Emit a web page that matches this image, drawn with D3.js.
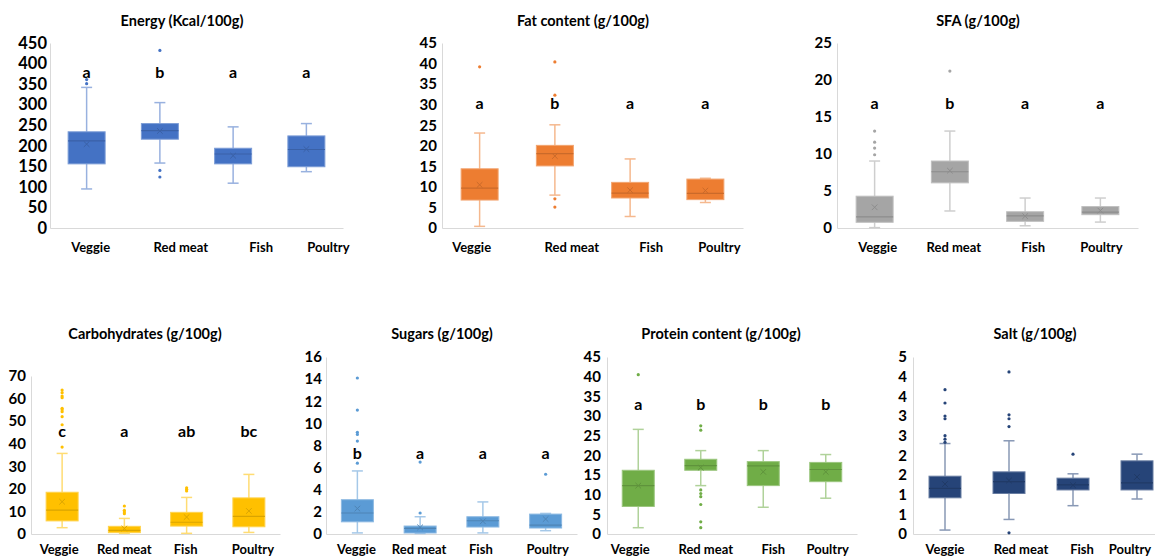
<!DOCTYPE html>
<html><head><meta charset="utf-8">
<script src="https://cdn.jsdelivr.net/npm/d3@7"></script>
<style>
body{margin:0;background:#fff}
svg{display:block}
text{font-family:Lato,"Open Sans",sans-serif;font-weight:bold;fill:#000}
</style>
</head><body>
<svg id="chart" width="1155" height="558"></svg>
<script>
const categories = ["Veggie", "Red meat", "Fish", "Poultry"];

// per category: [whiskerLow, q1, median, q3, whiskerHigh, mean]
const energyStats = [[95,156,212,234,342,204],[158,216,237,254,305,236],[109,156,180,194,246,176],[137,149,191,224,254,192]];
const energyOutliers = [[361,351],[432,140,124],[],[]];
const energyLetters = ["a","b","a","a"];
const energyTicks = [0,50,100,150,200,250,300,350,400,450];

const fatStats = [[0.4,6.8,9.7,14.4,23.1,10.5],[8.0,15.1,18.1,20.1,25.1,17.5],[2.8,7.3,8.5,11.1,16.8,9.2],[6.2,6.9,8.4,11.9,12.1,9.1]];
const fatOutliers = [[39.2],[40.4,32.3,7.1,5.1],[],[]];
const fatLetters = ["a","b","a","a"];
const fatTicks = [0,5,10,15,20,25,30,35,40,45];

const sfaStats = [[0.05,0.77,1.5,4.3,9.05,2.8],[2.3,6.1,7.6,9.05,13.1,7.75],[0.3,0.9,1.65,2.2,4.05,1.6],[0.8,1.8,2.15,2.9,4.05,2.35]];
const sfaOutliers = [[13.1,11.6,10.8,9.9],[21.2],[],[]];
const sfaLetters = ["a","b","a","a"];
const sfaTicks = [0,5,10,15,20,25];

const carbStats = [[2.8,5.8,10.6,18.5,35.7,14.3],[0.3,0.6,1.6,3.4,6.9,2.4],[0.3,3.5,5.2,9.6,16.2,7.5],[0.7,3.2,7.8,16.0,26.4,10.2]];
const carbOutliers = [[63.8,62.6,61.1,60.4,55.7,55.0,54.2,52.0,48.4,38.5],[12.4,10.5,9.8,9.0],[20.5,19.8,19.1],[]];
const carbLetters = ["c","a","ab","bc"];
const carbTicks = [0,10,20,30,40,50,60,70];

const sugarStats = [[0.1,1.1,1.9,3.1,5.7,2.3],[0.05,0.09,0.5,0.72,1.56,0.6],[0.1,0.63,1.2,1.56,2.9,1.15],[0.3,0.54,0.8,1.8,1.86,1.35]];
const sugarOutliers = [[14.1,11.2,9.2,9.0,8.4,6.4],[6.5,1.9],[],[5.4]];
const sugarLetters = ["b","a","a","a"];
const sugarTicks = [0,2,4,6,8,10,12,14,16];

const proteinStats = [[1.6,7.0,12.3,16.2,26.6,12.3],[12.3,16.2,17.4,19.0,21.2,16.9],[6.8,12.3,17.3,18.4,21.2,15.8],[9.1,13.3,16.4,18.2,20.2,15.8]];
const proteinOutliers = [[40.5],[27.5,26.4,11.2,10.3,9.5,7.5,3.1,1.6],[],[]];
const proteinLetters = ["a","b","b","b"];
const proteinTicks = [0,5,10,15,20,25,30,35,40,45];

const saltStats = [[0.10,0.92,1.16,1.47,2.30,1.27],[0.37,1.03,1.33,1.58,2.37,1.36],[0.72,1.12,1.25,1.42,1.53,1.24],[0.89,1.12,1.30,1.86,2.03,1.45]];
const saltOutliers = [[2.33,2.41,2.50,2.93,3.0,3.33,3.67],[0.03,2.73,2.93,3.03,4.12],[2.03],[]];
const saltLetters = ["","","",""];
const saltTicks = [0,0.5,1,1.5,2,2.5,3,3.5,4,4.5];
const saltTickLabels = ["0","1","1","2","2","3","3","4","4","5"];

const panels = [
  {title:"Energy (Kcal/100g)", stats:energyStats, out:energyOutliers, letters:energyLetters, letterAt:377, ticks:energyTicks,
   color:"#4472C4", x0:50, x1:343, yb:228, yt:43, tx:182, ty:26, ly:252, fs:16.5, gap:3, shift:[4,21,28,22], bw:37},
  {title:"Fat content (g/100g)", stats:fatStats, out:fatOutliers, letters:fatLetters, letterAt:30.2, ticks:fatTicks,
   color:"#ED7D31", x0:442, x1:743, yb:228, yt:43, tx:583, ty:26, ly:252, fs:15, gap:5, shift:[-8,17,21,14], bw:37},
  {title:"SFA (g/100g)", stats:sfaStats, out:sfaOutliers, letters:sfaLetters, letterAt:16.8, ticks:sfaTicks,
   color:"#A5A5A5", x0:837, x1:1138, yb:228, yt:43, tx:978, ty:26, ly:252, fs:15, gap:5, shift:[3,4,8,1], bw:37},
  {title:"Carbohydrates (g/100g)", stats:carbStats, out:carbOutliers, letters:carbLetters, letterAt:45.3, ticks:carbTicks,
   color:"#FFC000", x0:31, x1:280, yb:534, yt:376, tx:145, ty:339, ly:554, fs:15, gap:5, shift:[-3,0,-1,4], bw:32},
  {title:"Sugars (g/100g)", stats:sugarStats, out:sugarOutliers, letters:sugarLetters, letterAt:7.2, ticks:sugarTicks,
   color:"#5B9BD5", x0:326, x1:577, yb:534, yt:357, tx:442, ty:339, ly:554, fs:15, gap:4, shift:[-1,-1,-2,2], bw:32},
  {title:"Protein content (g/100g)", stats:proteinStats, out:proteinOutliers, letters:proteinLetters, letterAt:32.8, ticks:proteinTicks,
   color:"#70AD47", x0:607, x1:857, yb:534, yt:357, tx:721, ty:339, ly:554, fs:15, gap:6, shift:[-8,5,10,2], bw:32},
  {title:"Salt (g/100g)", stats:saltStats, out:saltOutliers, letters:saltLetters, letterAt:4, ticks:saltTicks, tickLabels:saltTickLabels,
   color:"#264478", x0:913, x1:1169, yb:534, yt:357, tx:1035, ty:339, ly:554, fs:15, gap:6, shift:[0,12,9,-7], bw:32}
];

const svg = d3.select("#chart");
const axisGrey = "#d9d9d9";

panels.forEach(p => {
  const g = svg.append("g");
  const ymax = p.ticks[p.ticks.length-1];
  const y = d3.scaleLinear().domain([0, ymax]).range([p.yb, p.yt]);
  const x = d3.scaleBand().domain(categories).range([p.x0, p.x1]);
  const cx = c => x(c) + x.bandwidth()/2;
  const light = d3.interpolateRgb(p.color, "#ffffff");
  const whiskerCol = light(0.45);
  const edgeCol = light(0.3);
  const darkCol = d3.color(p.color).darker(0.45).formatHex();

  // title
  g.append("text").attr("x", p.tx).attr("y", p.ty).attr("text-anchor","middle")
    .style("font-size","14.5px").text(p.title);

  // y axis
  const ya = d3.axisLeft(y).tickValues(p.ticks).tickSize(0).tickSizeOuter(0).tickPadding(p.gap)
    .tickFormat((d,i) => p.tickLabels ? p.tickLabels[i] : d3.format("d")(d));
  const yg = g.append("g").attr("transform", `translate(${p.x0},0)`).call(ya);
  yg.select(".domain").attr("stroke", axisGrey);
  yg.selectAll("text").style("font-size", p.fs + "px").style("font-family","Lato,'Open Sans',sans-serif").attr("font-weight","bold").attr("fill","#000");

  // x axis line
  const xa = d3.axisBottom(x).tickSize(0).tickSizeOuter(0).tickFormat("");
  const xg = g.append("g").attr("transform", `translate(0,${p.yb})`).call(xa);
  xg.select(".domain").attr("stroke", axisGrey);

  // category labels
  g.selectAll(".cat").data(categories).join("text")
    .attr("x", (c,i) => cx(c) + p.shift[i]).attr("y", p.ly)
    .attr("text-anchor","middle").style("font-size","13px").text(c => c);

  categories.forEach((c, i) => {
    const [lo, q1, med, q3, hi, mean] = p.stats[i];
    const xc = cx(c);
    const hw = p.bw/2;
    // whiskers
    g.append("line").attr("x1", xc).attr("x2", xc).attr("y1", y(hi)).attr("y2", y(q3))
      .attr("stroke", whiskerCol).attr("stroke-width", 1.5);
    g.append("line").attr("x1", xc).attr("x2", xc).attr("y1", y(q1)).attr("y2", y(lo))
      .attr("stroke", whiskerCol).attr("stroke-width", 1.5);
    [hi, lo].forEach(v => g.append("line").attr("x1", xc-5.5).attr("x2", xc+5.5).attr("y1", y(v)).attr("y2", y(v))
      .attr("stroke", whiskerCol).attr("stroke-width", 1.5));
    // box
    g.append("rect").attr("x", xc-hw).attr("width", p.bw).attr("y", y(q3)).attr("height", y(q1)-y(q3))
      .attr("fill", p.color).attr("stroke", edgeCol).attr("stroke-width", 1);
    // median
    g.append("line").attr("x1", xc-hw).attr("x2", xc+hw).attr("y1", y(med)).attr("y2", y(med))
      .attr("stroke", darkCol).attr("stroke-width", 1.2);
    // mean marker
    const my = y(mean), s = 2.8;
    g.append("path").attr("d", `M${xc-s},${my-s}L${xc+s},${my+s}M${xc-s},${my+s}L${xc+s},${my-s}`)
      .attr("stroke", darkCol).attr("stroke-width", 1).attr("fill","none");
    // outliers
    p.out[i].forEach(v => g.append("circle").attr("cx", xc).attr("cy", y(v)).attr("r", 1.6).attr("fill", p.color));
    // significance letters
    if (p.letters[i]) {
      g.append("text").attr("x", xc).attr("y", y(p.letterAt) + 5).attr("text-anchor","middle")
        .style("font-size","16px").text(p.letters[i]);
    }
  });
});
</script>
</body></html>
